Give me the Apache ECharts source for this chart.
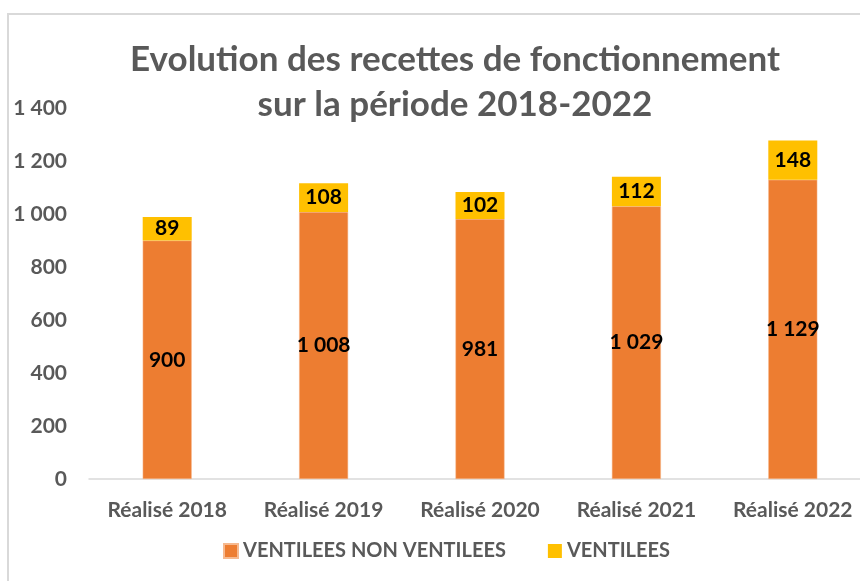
<!DOCTYPE html>
<html><head><meta charset="utf-8">
<script src="https://cdn.jsdelivr.net/npm/echarts@6/dist/echarts.min.js"></script>
<style>html,body{margin:0;padding:0;background:#fff}#c{width:860px;height:581px}</style>
</head><body><div id="c"></div>
<script>
const categories = ['Réalisé 2018','Réalisé 2019','Réalisé 2020','Réalisé 2021','Réalisé 2022'];
const nonVentilees = [900, 1008, 981, 1029, 1129];
const ventilees = [89, 108, 102, 112, 148];
const yTicks = [0, 200, 400, 600, 800, 1000, 1200, 1400];
const seriesNames = ['VENTILEES NON VENTILEES', 'VENTILEES'];
const titleLines = ['Evolution des recettes de fonctionnement', 'sur la période 2018-2022'];

const fmt = v => String(v).replace(/\B(?=(\d{3})+(?!\d))/g, ' ');
const FONT = 'Lato';
const chart = echarts.init(document.getElementById('c'), null, {renderer:'canvas'});
chart.setOption({
  animation: false,
  backgroundColor: '#fff',
  graphic: [{type:'rect', shape:{x:8, y:14, width:900, height:700}, style:{fill:'none', stroke:'#d9d9d9', lineWidth:2}, z:-1}],
  title: {
    text: titleLines.join('\n'), left: 450, top: 32, textAlign: 'center',
    textStyle: {fontFamily: FONT, fontWeight: 'bold', fontSize: 35, color: '#595959', lineHeight: 45}
  },
  legend: {
    data: seriesNames, bottom: 15, left: 218, itemWidth: 14, itemHeight: 14, itemGap: 42, icon: 'rect',
    textStyle: {fontFamily: FONT, fontWeight: 'bold', fontSize: 20, color: '#595959'}
  },
  grid: {left: 89, top: 108, height: 371, width: 782, outerBoundsMode: 'none', containLabel: false},
  xAxis: {
    type: 'category', data: categories,
    axisLine: {lineStyle: {color: '#d9d9d9', width: 1.5}}, axisTick: {show: false},
    axisLabel: {fontFamily: FONT, fontWeight: 'bold', fontSize: 21, color: '#595959', margin: 21}
  },
  yAxis: {
    type: 'value', min: yTicks[0], max: yTicks[yTicks.length-1], interval: 200,
    splitLine: {show: false}, axisLine: {show: false}, axisTick: {show: false},
    axisLabel: {fontFamily: FONT, fontWeight: 'bold', fontSize: 21, color: '#595959', margin: 22, formatter: v => fmt(v)}
  },
  series: [
    {name: seriesNames[0], type: 'bar', stack: 't', data: nonVentilees, barWidth: 49,
     itemStyle: {color: '#ED7D31', borderColor: '#f6b98f', borderWidth: 0.5},
     label: {show: true, position: 'inside', fontFamily: FONT, fontWeight: 'bold', fontSize: 21, color: '#000', formatter: p => fmt(p.value)}},
    {name: seriesNames[1], type: 'bar', stack: 't', data: ventilees, barWidth: 49,
     itemStyle: {color: '#FFC000'},
     label: {show: true, position: 'inside', fontFamily: FONT, fontWeight: 'bold', fontSize: 21, color: '#000', formatter: p => fmt(p.value)}}
  ]
});
</script></body></html>
